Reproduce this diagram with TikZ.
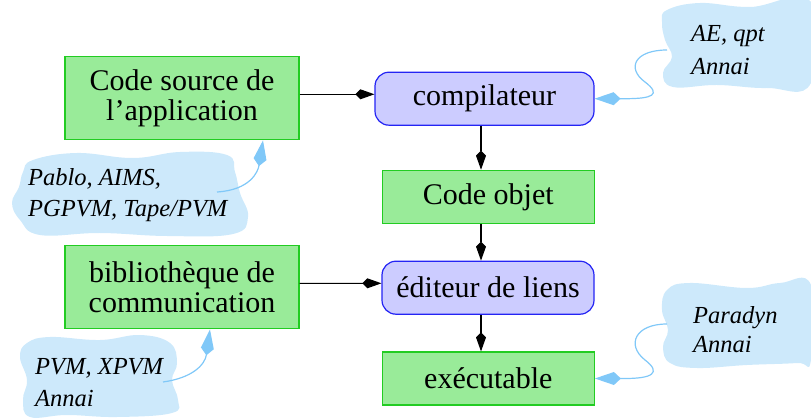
\documentclass[tikz,border=0pt]{standalone}
\usepackage{fontspec}
\setmainfont{Liberation Serif}
\usetikzlibrary{arrows.meta,calc}

\definecolor{boxgreen}{HTML}{99EB99}
\definecolor{edgegreen}{HTML}{22CC22}
\definecolor{boxblue}{HTML}{CCCCFF}
\definecolor{edgeblue}{HTML}{2424F4}
\definecolor{cloudfill}{HTML}{CDE9FB}
\definecolor{cloudline}{HTML}{80C8F8}

\tikzset{
  greenbox/.style={draw=edgegreen, fill=boxgreen, line width=1.2pt,
    align=center, inner sep=0pt, font=\fontsize{30}{30}\selectfont},
  bluebox/.style={draw=edgeblue, fill=boxblue, line width=1.2pt,
    rounded corners=14pt, align=center, inner sep=0pt,
    font=\fontsize{30}{30}\selectfont},
  flow/.style={draw=black, line width=1.1pt,
    -{Kite[length=19pt,width=10pt,inset=5pt]}},
  hint/.style={draw=cloudline, line width=1.2pt,
    -{Kite[length=26pt,width=13pt,inset=7pt]}},
  cloudshape/.style={fill=cloudfill},
  tooltext/.style={anchor=north west, inner sep=0pt, align=left,
    font=\itshape\fontsize{24.5}{31}\selectfont},
}

\begin{document}
\begin{tikzpicture}[x=1pt,y=-1pt]
  \useasboundingbox (0,0) rectangle (811,419);

  % tool clouds
  \fill[cloudshape] plot[smooth cycle, tension=0.7] coordinates {
    (23,172) (33,160) (77,153) (133,158) (180,152) (227,155) (235,172)
    (240,193) (248,217) (233,234) (167,236) (100,233) (40,235)
    (20,220) (12,203) (19,187)};
  \fill[cloudshape] plot[smooth cycle, tension=0.7] coordinates {
    (667,10) (700,3) (750,7) (811,2) (811,83) (767,88) (717,85)
    (673,87) (663,73) (672,57) (665,40) (662,22)};
  \fill[cloudshape] plot[smooth cycle, tension=0.7] coordinates {
    (27,343) (50,337) (100,340) (140,335) (170,343) (177,363) (172,380)
    (178,400) (172,413) (117,417) (67,415) (30,417) (23,400) (27,380)
    (20,357)};
  \fill[cloudshape] plot[smooth cycle, tension=0.7] coordinates {
    (667,290) (690,283) (747,288) (780,283) (811,285) (811,360)
    (797,363) (747,365) (697,368) (670,363) (663,347) (668,330)
    (662,310)};

  \node[tooltext] (tpablo) at (28,168) {Pablo, AIMS,\\PGPVM, Tape/PVM};
  \node[tooltext, font=\itshape\fontsize{24.5}{33}\selectfont] (tae) at (691,25) {AE, qpt\\Annai};
  \node[tooltext, font=\itshape\fontsize{24.5}{32}\selectfont] (tpvm) at (35,358) {PVM, XPVM\\Annai};
  \node[tooltext, font=\itshape\fontsize{24.5}{29}\selectfont] (tpar) at (693,306) {Paradyn\\Annai};

  % build chain
  \node[greenbox, minimum width=234pt, minimum height=83pt] (src) at (182,98.3) {Code source de\\l'application};
  \node[bluebox, minimum width=219pt, minimum height=53pt] (comp) at (484.5,98.7) {compilateur};
  \node[greenbox, minimum width=212pt, minimum height=53pt] (obj) at (488.3,196.8) {Code objet};
  \node[greenbox, minimum width=234pt, minimum height=83pt] (lib) at (182,287.4) {biblioth\`eque de\\communication};
  \node[bluebox, minimum width=212pt, minimum height=53pt] (link) at (488,287.7) {\'editeur de liens};
  \node[greenbox, minimum width=212pt, minimum height=53pt] (exe) at (488.3,378.5) {ex\'ecutable};

  \coordinate (spine) at (481,0);

  \draw[flow] ([yshift=4pt]src.east) -- ([yshift=4.4pt]comp.west);
  \draw[flow] ([yshift=4pt]lib.east) -- ([yshift=4.4pt]link.west);
  \draw[flow] (comp.south -| spine) -- (obj.north -| spine);
  \draw[flow] (obj.south -| spine) -- (link.north -| spine);
  \draw[flow] (link.south -| spine) -- (exe.north -| spine);

  % tool hints
  \coordinate (h1) at (217,192);
  \coordinate (h2) at (667,50);
  \coordinate (h3) at (163,382);
  \coordinate (h4) at (667,324);
  \draw[hint] (h1) .. controls (250,190) and (258,172) .. ([xshift=81pt]src.south);
  \draw[hint] (h2) .. controls (635,50) and (626,68) .. (645,82)
    .. controls (662,95) and (652,98.7) .. (625,98.7) -- (comp.east);
  \draw[hint] (h3) .. controls (192,378) and (205,365) .. ([xshift=28pt]lib.south);
  \draw[hint] (h4) .. controls (635,324) and (626,345) .. (645,360)
    .. controls (662,373) and (652,378.5) .. (625,378.5) -- (exe.east);
\end{tikzpicture}
\end{document}
